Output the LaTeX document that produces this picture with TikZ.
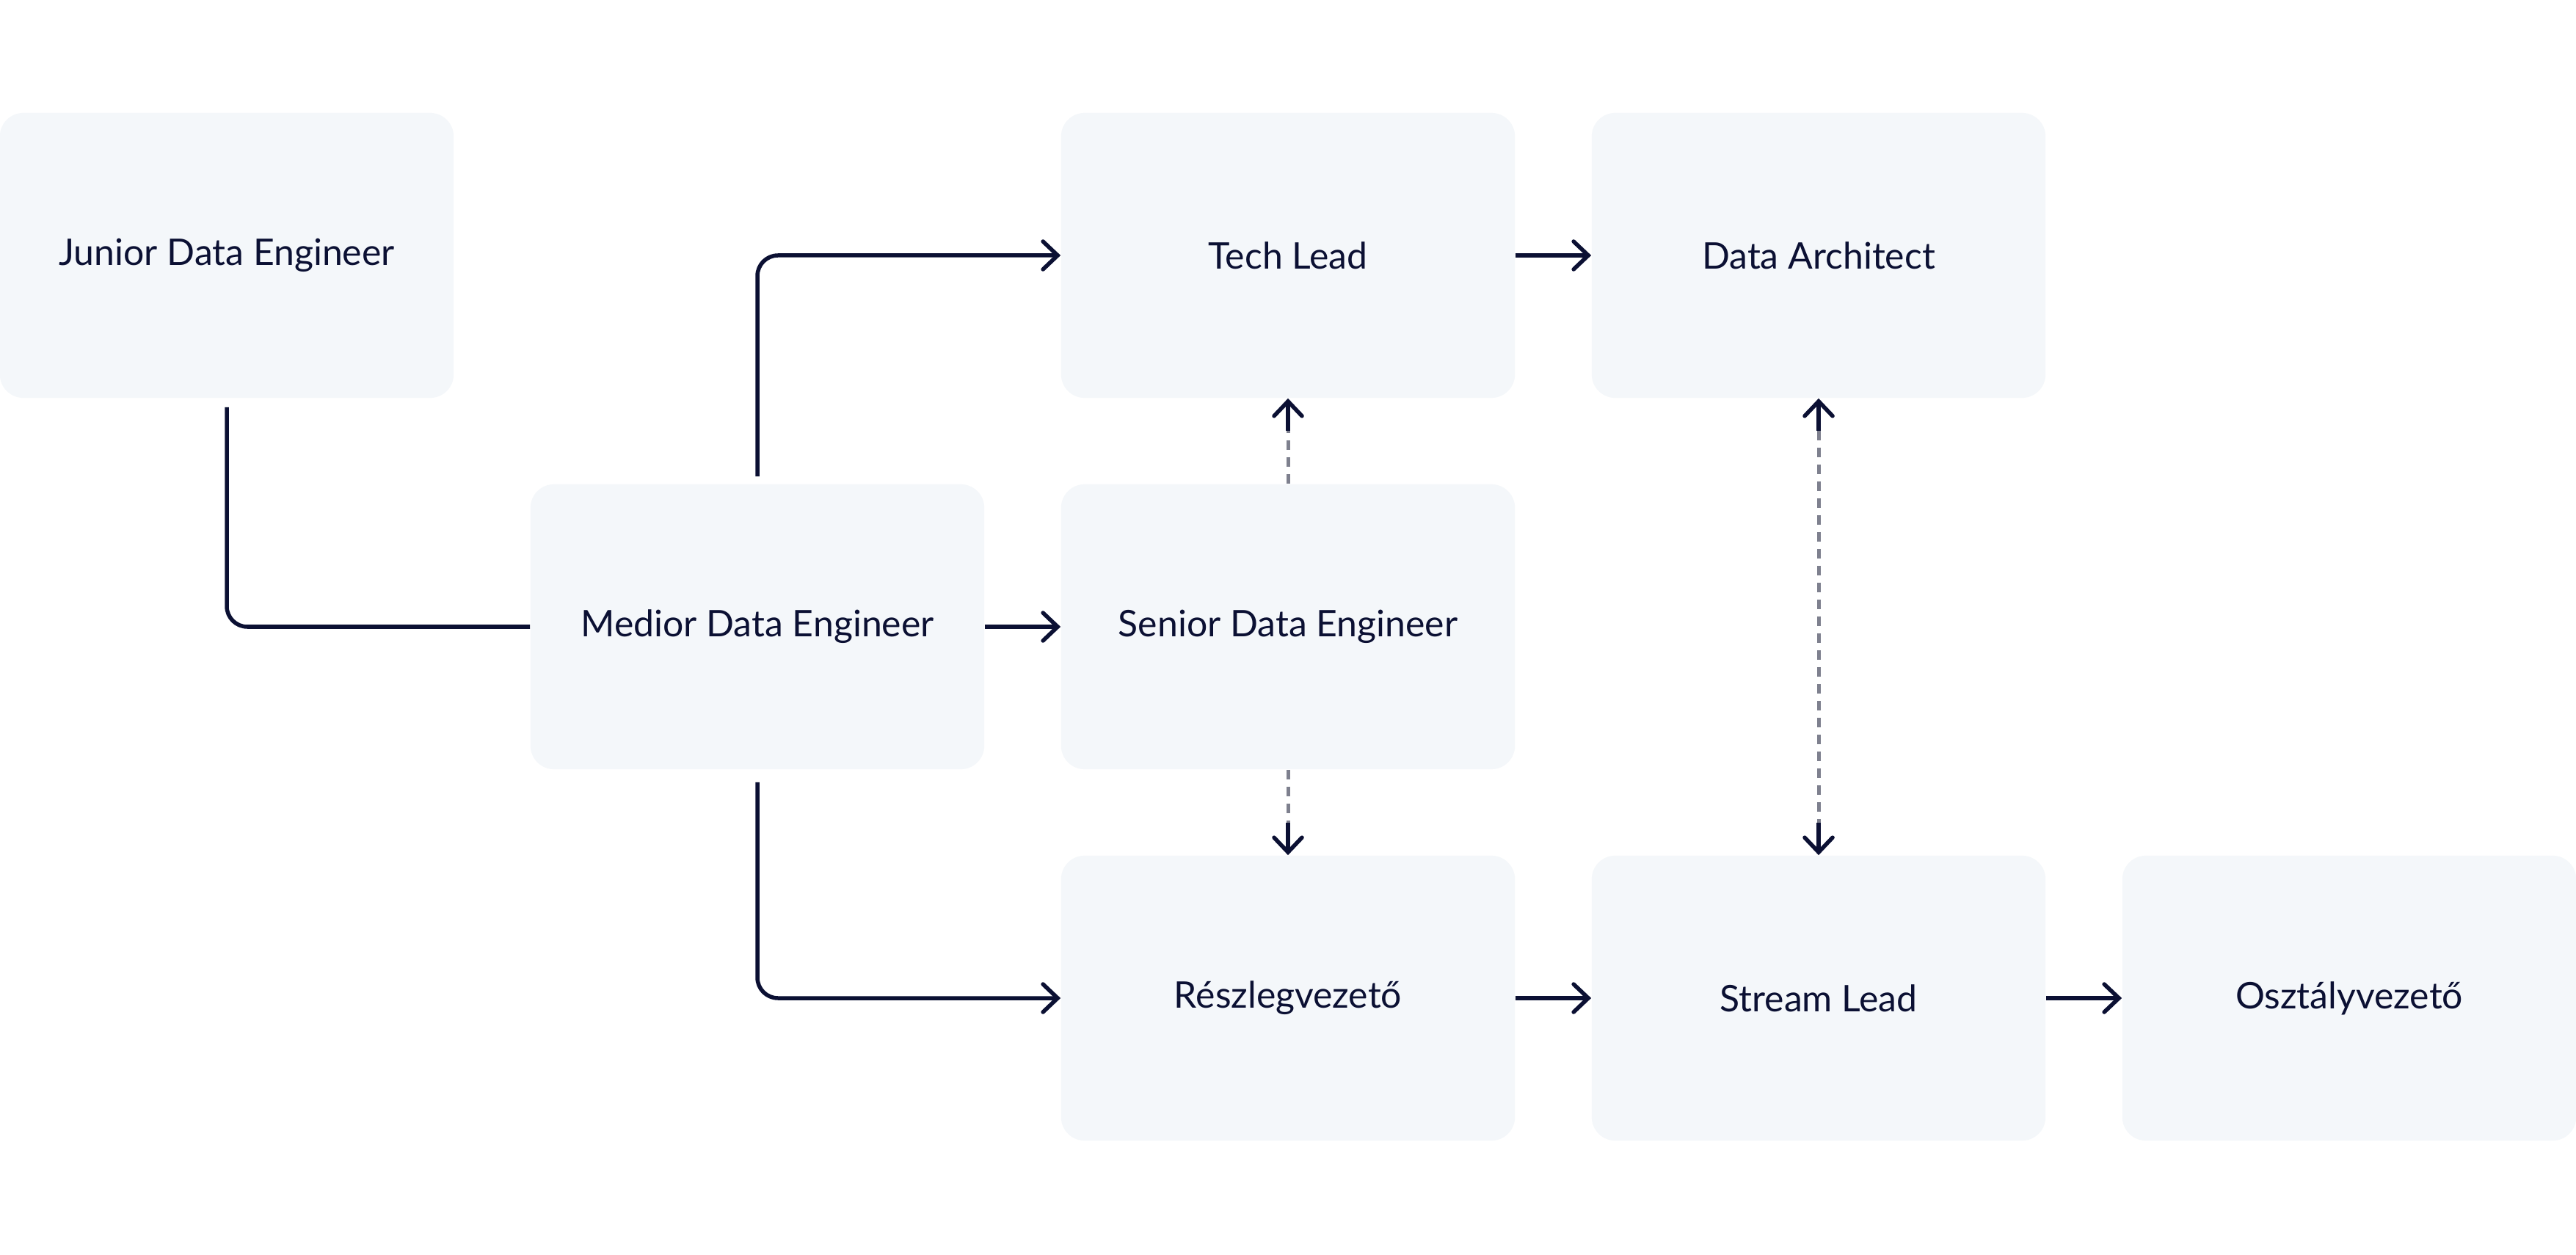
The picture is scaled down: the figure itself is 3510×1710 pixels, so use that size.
\documentclass[tikz,border=0pt]{standalone}
\usepackage{fontspec}
\setmainfont{Lato}
\usetikzlibrary{arrows.meta,calc}
\definecolor{boxfill}{HTML}{F4F7FA}
\definecolor{ink}{HTML}{0B1033}
\definecolor{dashgray}{HTML}{7E808E}
\tikzset{
  role/.style={rectangle, rounded corners=0.32cm, fill=boxfill, draw=none,
    minimum width=6.18cm, minimum height=3.88cm, inner sep=0pt,
    text=ink, font=\fontsize{14.2}{17}\selectfont},
  conn/.style={draw=ink, line width=0.055cm, rounded corners=0.28cm},
  tip/.style={-{Straight Barb[length=0.2cm,width=0.38cm,line cap=round]}},
  dashline/.style={draw=dashgray, line width=0.05cm, dash pattern=on 0.13cm off 0.10cm},
}
\begin{document}
\begin{tikzpicture}[x=0.01cm,y=-0.01cm]
\fill[white] (0,0) rectangle (3510,1710);
\useasboundingbox (0,0) rectangle (3510,1710);
\node[role] (junior) at (309,348) {Junior Data Engineer};
\node[role] (medior) at (1032,854) {Medior Data Engineer};
\node[role] (tech) at (1755,348) {Tech Lead};
\node[role] (senior) at (1755,854) {Senior Data Engineer};
\node[role] (reszleg) at (1755,1360) {Részlegvezető};
\node[role] (arch) at (2478,348) {Data Architect};
\node[role] (stream) at (2478,1360) {Stream Lead};
\node[role] (oszt) at (3201,1360) {Osztályvezető};
% solid connectors
\draw[conn] ($(junior.south)+(0,12)$) |- (medior.west);
\draw[conn,tip] ($(medior.north)+(0,-10)$) |- (tech.west);
\draw[conn,tip] ($(medior.south)+(0,17)$) |- (reszleg.west);
\draw[conn,tip] (medior.east) -- (senior.west);
\draw[conn,tip] (tech.east) -- (arch.west);
\draw[conn,tip] (reszleg.east) -- (stream.west);
\draw[conn,tip] (stream.east) -- (oszt.west);
% dashed connectors
\coordinate (tsb) at ($(tech.south)+(0,44)$);
\draw[dashline] (senior.north) -- (tsb);
\draw[conn,tip] (tsb) -- (tech.south);
\coordinate (rnt) at ($(reszleg.north)+(0,-44)$);
\draw[dashline] (senior.south) -- (rnt);
\draw[conn,tip] (rnt) -- (reszleg.north);
\coordinate (asb) at ($(arch.south)+(0,44)$);
\coordinate (snt) at ($(stream.north)+(0,-44)$);
\draw[dashline] (asb) -- (snt);
\draw[conn,tip] (asb) -- (arch.south);
\draw[conn,tip] (snt) -- (stream.north);
\end{tikzpicture}
\end{document}
